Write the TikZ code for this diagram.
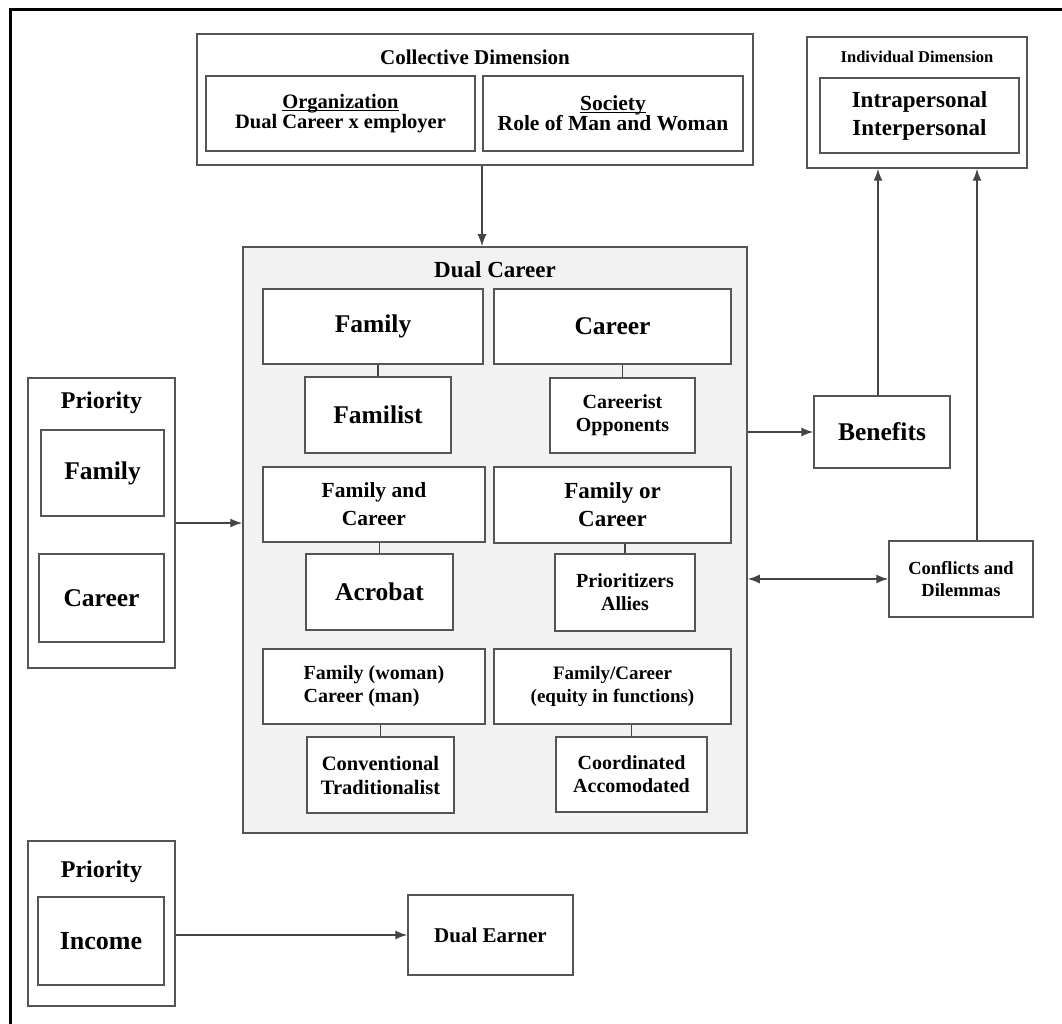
\documentclass[tikz,border=0pt]{standalone}
\usepackage{fontspec}
\setmainfont{Liberation Serif}
\usepackage{tikz}
\usetikzlibrary{arrows.meta}
\usepackage{xcolor}
\definecolor{linegray}{HTML}{555555}
\definecolor{panelgray}{HTML}{F2F2F2}
\newcommand{\boxfont}[2]{\fontsize{#1}{#2}\selectfont}
\tikzset{
    plain-box/.style = {draw=linegray, fill=white, line width=1.5pt, rectangle, inner sep=2pt, align=center, font=\bfseries\boxfont{20}{23}},
    panel-box/.style = {draw=linegray, fill=white, line width=1.5pt, rectangle},
    panel-title/.style = {anchor=base, inner sep=0pt, font=\bfseries\boxfont{21}{24}},
    link-line/.style = {draw=linegray!80!black, line width=1.5pt},
    link-arrow/.style = {link-line, -{Latex[length=12pt, width=9pt]}},
}

\begin{document}
\begin{tikzpicture}[x=1pt, y=-1pt]
\useasboundingbox (0,0) rectangle (1062,1024);
\draw[line width=3pt] (10,1040) -- (10,10) -- (1080,10);

% collective and individual dimensions
\node[panel-box, minimum width=556pt, minimum height=131pt] (coll) at (475,99.5) {};
\node[panel-title] (coll-title) at (475,65) {Collective Dimension};
\node[plain-box, minimum width=269pt, minimum height=75pt, font=\bfseries\boxfont{20.5}{20}] (org) at (340.5,113.5) {\underbar{Organization}\\Dual Career x employer};
\node[plain-box, minimum width=260pt, minimum height=75pt, font=\bfseries\boxfont{21.5}{20}] (soc) at (613,113.5) {\underbar{Society}\\Role of Man and Woman};

\node[panel-box, minimum width=220pt, minimum height=131pt] (indiv) at (917,102.5) {};
\node[panel-title, font=\bfseries\boxfont{16.5}{19}] (indiv-title) at (917,62.5) {Individual Dimension};
\node[plain-box, minimum width=199pt, minimum height=75pt, font=\bfseries\boxfont{23}{28}] (intra) at (919.5,115.5) {Intrapersonal\\Interpersonal};

% dual career panel
\node[panel-box, fill=panelgray, minimum width=504pt, minimum height=586pt] (dual) at (495,540) {};
\node[panel-title, font=\bfseries\boxfont{23}{26}] (dual-title) at (495,277) {Dual Career};

\node[plain-box, minimum width=220pt, minimum height=75pt, font=\bfseries\boxfont{25.5}{28}] (fam) at (373,326.5) {Family};
\node[plain-box, minimum width=237pt, minimum height=75pt, font=\bfseries\boxfont{25.5}{28}] (car) at (612.5,326.5) {Career};
\node[plain-box, minimum width=146pt, minimum height=76pt, font=\bfseries\boxfont{25.5}{28}] (familist) at (378,415) {Familist};
\node[plain-box, minimum width=145pt, minimum height=75pt] (careerist) at (622.5,415.5) {Careerist\\Opponents};

\node[plain-box, minimum width=222pt, minimum height=75pt, font=\bfseries\boxfont{21.5}{28}] (fam-and) at (374,504.5) {Family and\\Career};
\node[plain-box, minimum width=237pt, minimum height=76pt, font=\bfseries\boxfont{23}{28}] (fam-or) at (612.5,505) {Family or\\Career};
\node[plain-box, minimum width=147pt, minimum height=76pt, font=\bfseries\boxfont{25.5}{28}] (acrobat) at (379.5,592) {Acrobat};
\node[plain-box, minimum width=140pt, minimum height=77pt] (prioritizer) at (625,592.5) {Prioritizers\\Allies};

\node[plain-box, minimum width=222pt, minimum height=75pt, align=left] (fam-woman) at (374,686.5) {Family (woman)\\Career (man)};
\node[plain-box, minimum width=237pt, minimum height=75pt, font=\bfseries\boxfont{19}{23}] (fam-equity) at (612.5,686.5) {Family/Career\\(equity in functions)};
\node[plain-box, minimum width=147pt, minimum height=76pt, font=\bfseries\boxfont{20.5}{24}] (conventional) at (380.5,775) {Conventional\\Traditionalist};
\node[plain-box, minimum width=151pt, minimum height=75pt] (coordinated) at (631.5,774.5) {Coordinated\\Accomodated};

\foreach \lower/\upper in {familist/fam, careerist/car, acrobat/fam-and, prioritizer/fam-or, conventional/fam-woman, coordinated/fam-equity}
    \draw[link-line] (\lower.north) -- (\lower.north |- \upper.south);

% outcomes
\node[plain-box, minimum width=136pt, minimum height=72pt, font=\bfseries\boxfont{25.5}{28}] (benefits) at (882,432) {Benefits};
\node[plain-box, minimum width=144pt, minimum height=76pt, font=\bfseries\boxfont{18.5}{22}] (conflicts) at (961,579) {Conflicts and\\Dilemmas};

% priorities
\node[panel-box, minimum width=147pt, minimum height=290pt] (prio-fc) at (101.5,523) {};
\node[panel-title, font=\bfseries\boxfont{24}{28}] (prio-fc-title) at (101.5,408) {Priority};
\node[plain-box, minimum width=123pt, minimum height=86pt, font=\bfseries\boxfont{25.5}{28}] (prio-fam) at (102.5,473) {Family};
\node[plain-box, minimum width=125pt, minimum height=88pt, font=\bfseries\boxfont{25.5}{28}] (prio-car) at (101.5,598) {Career};

\node[panel-box, minimum width=147pt, minimum height=165pt] (prio-inc) at (101.5,923.5) {};
\node[panel-title, font=\bfseries\boxfont{24}{28}] (prio-inc-title) at (101.5,877) {Priority};
\node[plain-box, minimum width=126pt, minimum height=88pt, font=\bfseries\boxfont{26}{28}] (income) at (101,941) {Income};
\node[plain-box, minimum width=165pt, minimum height=80pt, font=\bfseries\boxfont{21}{24}] (dual-earner) at (490.5,935) {Dual Earner};

% connectors
\draw[link-arrow] ([xshift=7pt]coll.south) -- ([xshift=7pt]coll.south |- dual.north);
\draw[link-arrow] (prio-fc.east) -- (prio-fc.east -| dual.west);
\draw[link-arrow] (prio-inc.east |- dual-earner.west) -- (dual-earner.west);
\draw[link-arrow] (dual.east |- benefits.west) -- (benefits.west);
\draw[link-line, {Latex[length=12pt, width=9pt]}-{Latex[length=12pt, width=9pt]}] (dual.east |- conflicts.west) -- (conflicts.west);
\draw[link-arrow] ([xshift=-4pt]benefits.north) -- ([xshift=-4pt]benefits.north |- indiv.south);
\draw[link-arrow] ([xshift=16pt]conflicts.north) -- ([xshift=16pt]conflicts.north |- indiv.south);
\end{tikzpicture}
\end{document}
